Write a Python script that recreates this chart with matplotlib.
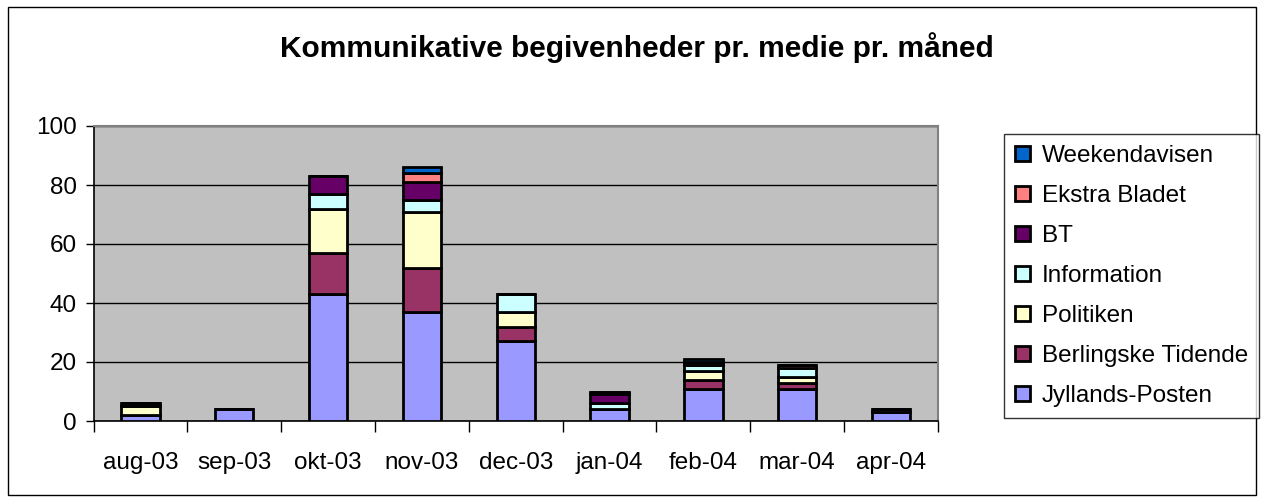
import numpy as np
import matplotlib
matplotlib.use("Agg")
import matplotlib.pyplot as plt
from matplotlib.patches import Rectangle

plt.rcParams['font.family'] = ['Liberation Sans', 'DejaVu Sans']

months = ["aug-03", "sep-03", "okt-03", "nov-03", "dec-03",
          "jan-04", "feb-04", "mar-04", "apr-04"]

# counts per medium per month (stack order bottom -> top)
jyllands_posten = [2, 4, 43, 37, 27, 4, 11, 11, 3]
berlingske = [0, 0, 14, 15, 5, 0, 3, 2, 1]
politiken = [3, 0, 15, 19, 5, 0, 3, 2, 0]
information = [0, 0, 5, 4, 6, 2, 2, 3, 0]
bt = [1, 0, 6, 6, 0, 3, 1, 0, 0]
ekstra_bladet = [0, 0, 0, 3, 0, 1, 0, 1, 0]
weekendavisen = [0, 0, 0, 2, 0, 0, 1, 0, 0]

series = [
    ("Jyllands-Posten", jyllands_posten, "#9999FF"),
    ("Berlingske Tidende", berlingske, "#993366"),
    ("Politiken", politiken, "#FFFFCC"),
    ("Information", information, "#CCFFFF"),
    ("BT", bt, "#660066"),
    ("Ekstra Bladet", ekstra_bladet, "#FF8080"),
    ("Weekendavisen", weekendavisen, "#0066CC"),
]

W, H = 1261, 497
fig = plt.figure(figsize=(W / 100, H / 100), dpi=100)
fig.patch.set_facecolor("white")

# outer chart border
fig.add_artist(Rectangle((8 / W, 2 / H), 1248 / W, 488 / H, transform=fig.transFigure,
                         fill=False, edgecolor="black", linewidth=1.0))

ax = fig.add_axes([93.5 / W, 1 - 421 / H, 844.5 / W, 295 / H])
ax.set_facecolor("#C0C0C0")

x = np.arange(len(months))
bottom = np.zeros(len(months))
handles = []
for name, vals, color in series:
    vals = np.array(vals, dtype=float)
    b = ax.bar(x, vals, width=0.41, bottom=bottom, color=color,
               edgecolor="black", linewidth=2.0, label=name, zorder=3)
    handles.append(b)
    bottom += vals

ax.set_xlim(-0.5, len(months) - 0.5)
ax.set_ylim(0, 100)
ax.set_yticks(range(0, 101, 20))
ax.yaxis.grid(True, color="black", linewidth=1.0, zorder=1)
ax.set_axisbelow(True)

ax.set_xticks(x)
ax.set_xticklabels(months)
ax.set_xticks(np.arange(-0.5, len(months), 1), minor=True)
ax.tick_params(axis="x", which="major", length=0, pad=22, labelsize=17.5)
ax.tick_params(axis="x", which="minor", length=8, width=1, direction="out")
ax.tick_params(axis="y", length=6, width=1, direction="out", pad=6, labelsize=17.5)

for s in ["top", "right"]:
    ax.spines[s].set_color("#808080")
    ax.spines[s].set_linewidth(1.5)
for s in ["left", "bottom"]:
    ax.spines[s].set_color("black")
    ax.spines[s].set_linewidth(1.2)

fig.text(637 / W, 1 - 48 / H, "Kommunikative begivenheder pr. medie pr. måned",
         ha="center", va="center", fontsize=21.5, fontweight="bold")

leg = fig.legend(handles[::-1], [s[0] for s in series][::-1],
                 loc="upper left", bbox_to_anchor=(1004 / W, 1 - 134 / H),
                 fontsize=17.5, frameon=True, fancybox=False, shadow=False,
                 handlelength=0.6, handleheight=0.6, handletextpad=0.5,
                 labelspacing=0.74, borderpad=0.45, borderaxespad=0)
leg.get_frame().set_edgecolor("black")
leg.get_frame().set_linewidth(1.0)

fig.savefig("out.png", dpi=100)
